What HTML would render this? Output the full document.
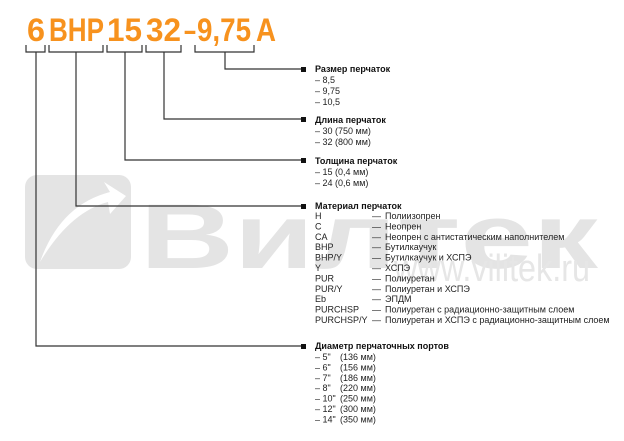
<!DOCTYPE html>
<html><head><meta charset="utf-8"><style>
html,body{margin:0;padding:0;background:#fff}
svg{display:block}
text{font-family:"Liberation Sans",sans-serif}
.t{font-size:9px;fill:#222}
.h{font-size:9px;font-weight:bold;fill:#111}
</style></head><body>
<svg width="624" height="441" viewBox="0 0 624 441">
<!-- watermark -->
<rect x="25" y="175" width="106" height="94" rx="12" fill="#e4e4e4"/>
<path d="M40 262 Q60 205 110 192 L104 182 L126 196 L110 214 L108 202 Q70 212 40 262Z" fill="#fff"/>
<text x="140" y="268" font-size="92" font-weight="bold" fill="#e4e4e4" textLength="458" lengthAdjust="spacingAndGlyphs">Вилтек</text>
<text x="394" y="281" font-size="38" fill="#e6e6e6" textLength="196" lengthAdjust="spacingAndGlyphs">www.vilitek.ru</text>
<!-- code -->
<g font-size="32" font-weight="bold" fill="#f7921e" font-family="Liberation Sans, sans-serif">
<text x="27" y="41" textLength="18" lengthAdjust="spacingAndGlyphs">6</text>
<text x="49" y="41" textLength="55" lengthAdjust="spacingAndGlyphs">BHP</text>
<text x="107" y="41" textLength="35" lengthAdjust="spacingAndGlyphs">15</text>
<text x="146" y="41" textLength="35" lengthAdjust="spacingAndGlyphs">32</text>
<text x="184" y="41" textLength="12" lengthAdjust="spacingAndGlyphs">–</text>
<text x="197" y="41" textLength="54" lengthAdjust="spacingAndGlyphs">9,75</text>
<text x="256" y="41" textLength="20" lengthAdjust="spacingAndGlyphs">A</text>
</g>
<g stroke="#333" stroke-width="1.2" fill="none">
<path d="M26 45V52H45V45"/>
<path d="M49 45V52H103V45"/>
<path d="M107 45V52H142V45"/>
<path d="M146 45V52H181V45"/>
<path d="M195 45V52H254V45"/>
<path d="M36 52V346H303"/>
<path d="M76 52V206H303"/>
<path d="M125 52V160H303"/>
<path d="M164 52V119H303"/>
<path d="M225 52V69H303"/>
</g>
<g fill="#111">
<rect x="301" y="67" width="5" height="5"/>
<rect x="301" y="117" width="5" height="5"/>
<rect x="301" y="158" width="5" height="5"/>
<rect x="301" y="204" width="5" height="5"/>
<rect x="301" y="344" width="5" height="5"/>
</g>
<text class="h" x="315" y="72">Размер перчаток</text>
<text class="t" x="315" y="83">– 8,5</text>
<text class="t" x="315" y="94">– 9,75</text>
<text class="t" x="315" y="105">– 10,5</text>
<text class="h" x="315" y="123">Длина перчаток</text>
<text class="t" x="315" y="134">– 30 (750 мм)</text>
<text class="t" x="315" y="145">– 32 (800 мм)</text>
<text class="h" x="315" y="164">Толщина перчаток</text>
<text class="t" x="315" y="175">– 15 (0,4 мм)</text>
<text class="t" x="315" y="186">– 24 (0,6 мм)</text>
<text class="h" x="315" y="209">Материал перчаток</text>
<g class="t">
<text class="t" x="315" y="219">H</text><text class="t" x="372" y="219">—</text><text class="t" x="385" y="219">Полиизопрен</text>
<text class="t" x="315" y="229.4">C</text><text class="t" x="372" y="229.4">—</text><text class="t" x="385" y="229.4">Неопрен</text>
<text class="t" x="315" y="239.8">CA</text><text class="t" x="372" y="239.8">—</text><text class="t" x="385" y="239.8">Неопрен с антистатическим наполнителем</text>
<text class="t" x="315" y="250.2">BHP</text><text class="t" x="372" y="250.2">—</text><text class="t" x="385" y="250.2">Бутилкаучук</text>
<text class="t" x="315" y="260.6">BHP/Y</text><text class="t" x="372" y="260.6">—</text><text class="t" x="385" y="260.6">Бутилкаучук и ХСПЭ</text>
<text class="t" x="315" y="271">Y</text><text class="t" x="372" y="271">—</text><text class="t" x="385" y="271">ХСПЭ</text>
<text class="t" x="315" y="281.4">PUR</text><text class="t" x="372" y="281.4">—</text><text class="t" x="385" y="281.4">Полиуретан</text>
<text class="t" x="315" y="291.8">PUR/Y</text><text class="t" x="372" y="291.8">—</text><text class="t" x="385" y="291.8">Полиуретан и ХСПЭ</text>
<text class="t" x="315" y="302.2">Eb</text><text class="t" x="372" y="302.2">—</text><text class="t" x="385" y="302.2">ЭПДМ</text>
<text class="t" x="315" y="312.6">PURCHSP</text><text class="t" x="372" y="312.6">—</text><text class="t" x="385" y="312.6">Полиуретан с радиационно-защитным слоем</text>
<text class="t" x="315" y="323">PURCHSP/Y</text><text class="t" x="372" y="323">—</text><text class="t" x="385" y="323">Полиуретан и ХСПЭ с радиационно-защитным слоем</text>
</g>
<text class="h" x="315" y="349">Диаметр перчаточных портов</text>
<text class="t" x="315" y="360">– 5"</text><text class="t" x="340" y="360">(136 мм)</text>
<text class="t" x="315" y="370.4">– 6"</text><text class="t" x="340" y="370.4">(156 мм)</text>
<text class="t" x="315" y="380.8">– 7"</text><text class="t" x="340" y="380.8">(186 мм)</text>
<text class="t" x="315" y="391.2">– 8"</text><text class="t" x="340" y="391.2">(220 мм)</text>
<text class="t" x="315" y="401.6">– 10"</text><text class="t" x="340" y="401.6">(250 мм)</text>
<text class="t" x="315" y="412">– 12"</text><text class="t" x="340" y="412">(300 мм)</text>
<text class="t" x="315" y="422.4">– 14"</text><text class="t" x="340" y="422.4">(350 мм)</text>
</svg>
</body></html>
